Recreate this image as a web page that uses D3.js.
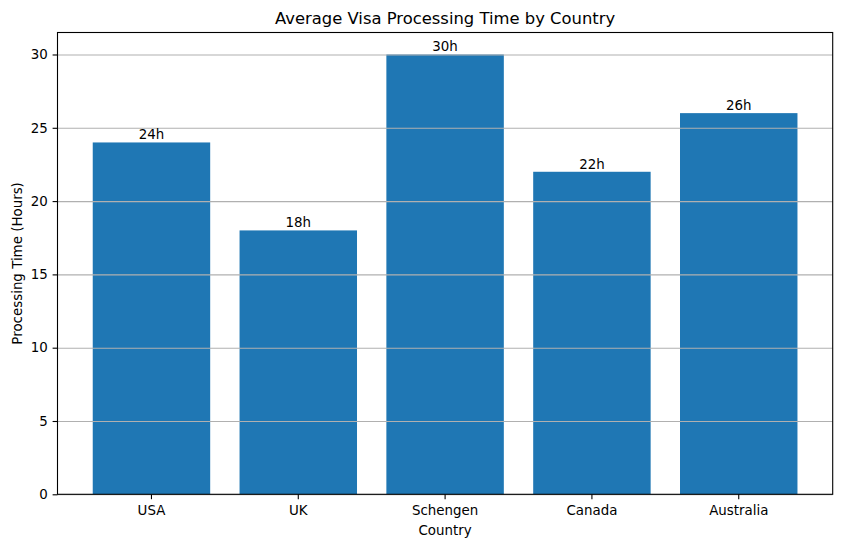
<!DOCTYPE html>
<html>
<head>
<meta charset="utf-8">
<script src="https://cdn.jsdelivr.net/npm/d3@7"></script>
<style>
  body { margin: 0; background: #fff; }
  svg { display: block; font-family: "DejaVu Sans", sans-serif; }
</style>
</head>
<body>
<svg width="841" height="547"></svg>
<script>
// data
var countries = ["USA", "UK", "Schengen", "Canada", "Australia"];
var hours = [24, 18, 30, 22, 26];
var yTicks = [0, 5, 10, 15, 20, 25, 30];

var svg = d3.select("svg");
var fontSize = "13.4px";

// axes box, same as matplotlib default for a 10x6 figure
// (window.top is read-only, so no plain "top" here)
var axLeft = 57.5, axRight = 832.7, axTop = 32.5, axBottom = 494.3;

var x = d3.scaleBand()
    .domain(countries)
    .range([axLeft, axRight])
    .paddingInner(0.2)
    .paddingOuter(0.24);

var y = d3.scaleLinear()
    .domain([0, 31.5])
    .range([axBottom, axTop]);

// bars
svg.selectAll("rect.bar").data(hours)
  .enter().append("rect")
    .attr("class", "bar")
    .attr("x", function(d, i) { return x(countries[i]); })
    .attr("y", function(d) { return y(d); })
    .attr("width", x.bandwidth())
    .attr("height", function(d) { return axBottom - y(d); })
    .style("fill", "#1f77b4");

// horizontal grid, drawn over the bars like matplotlib does
svg.append("g")
    .attr("transform", "translate(" + axLeft + ",0)")
    .call(d3.axisLeft(y).tickValues(yTicks).tickSize(-(axRight - axLeft)).tickFormat(""))
    .call(function(g) {
      g.select(".domain").remove();
      g.selectAll("line").attr("stroke", "#b0b0b0").attr("stroke-width", 1.1);
    });

// value labels on top of each bar
svg.selectAll("text.val").data(hours)
  .enter().append("text")
    .attr("class", "val")
    .attr("x", function(d, i) { return x(countries[i]) + x.bandwidth() / 2; })
    .attr("y", function(d) { return y(d) - 3; })
    .attr("text-anchor", "middle")
    .style("font-size", fontSize)
    .text(function(d) { return d + "h"; });

// y axis
var yAxis = svg.append("g")
    .attr("transform", "translate(" + axLeft + ",0)")
    .call(d3.axisLeft(y).tickValues(yTicks).tickSize(4.9).tickPadding(4.8));
yAxis.select(".domain").remove();
yAxis.selectAll("line").attr("stroke", "#000").attr("stroke-width", 1.1);
yAxis.selectAll("text")
    .attr("fill", "#000")
    .style("font-size", fontSize)
    .style("font-family", "DejaVu Sans");

// x axis
var xAxis = svg.append("g")
    .attr("transform", "translate(0," + axBottom + ")")
    .call(d3.axisBottom(x).tickSize(4.9).tickPadding(6));
xAxis.select(".domain").remove();
xAxis.selectAll("line").attr("stroke", "#000").attr("stroke-width", 1.1);
xAxis.selectAll("text")
    .attr("fill", "#000")
    .style("font-size", fontSize)
    .style("font-family", "DejaVu Sans");

// frame
svg.append("rect")
    .attr("x", axLeft)
    .attr("y", axTop)
    .attr("width", axRight - axLeft)
    .attr("height", axBottom - axTop)
    .style("fill", "none")
    .style("stroke", "#000")
    .style("stroke-width", 1.1);

// titles
svg.append("text")
    .attr("x", (axLeft + axRight) / 2)
    .attr("y", 24.3)
    .attr("text-anchor", "middle")
    .style("font-size", "16.4px")
    .text("Average Visa Processing Time by Country");

svg.append("text")
    .attr("x", (axLeft + axRight) / 2)
    .attr("y", 535)
    .attr("text-anchor", "middle")
    .style("font-size", fontSize)
    .text("Country");

svg.append("text")
    .attr("transform", "translate(22," + ((axTop + axBottom) / 2) + ") rotate(-90)")
    .attr("text-anchor", "middle")
    .style("font-size", fontSize)
    .text("Processing Time (Hours)");
</script>
</body>
</html>
